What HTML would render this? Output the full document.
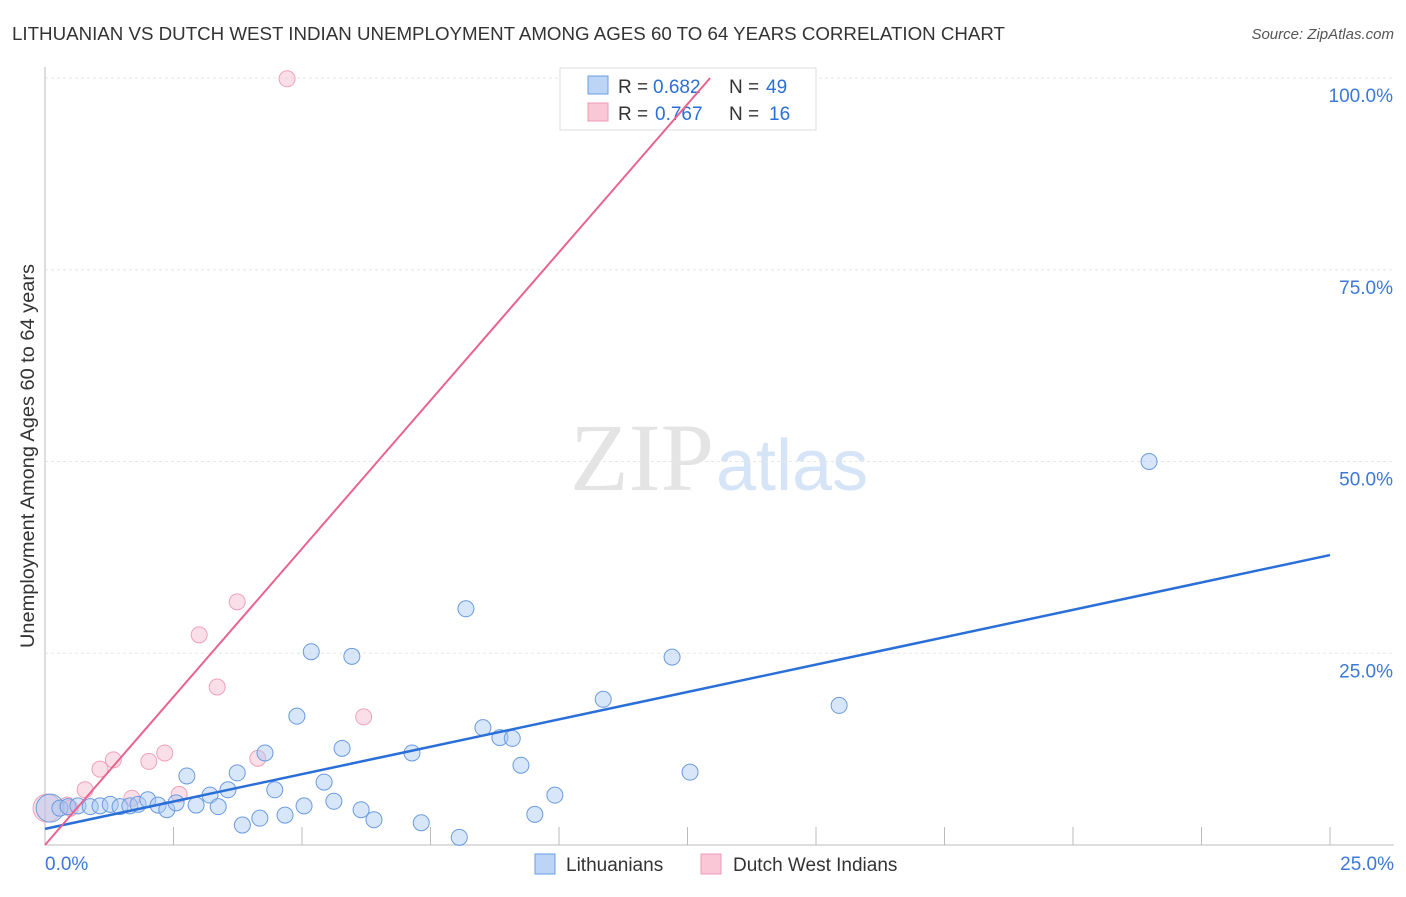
<!DOCTYPE html>
<html><head><meta charset="utf-8"><style>
body{margin:0;background:#fff;font-family:"Liberation Sans",sans-serif}
</style></head><body>
<svg id="chart" width="1406" height="892" xmlns="http://www.w3.org/2000/svg">
<text x="12" y="40" font-size="18" fill="#333" textLength="993" lengthAdjust="spacingAndGlyphs">LITHUANIAN VS DUTCH WEST INDIAN UNEMPLOYMENT AMONG AGES 60 TO 64 YEARS CORRELATION CHART</text>
<text x="1394" y="39" font-size="15" fill="#555" text-anchor="end" font-style="italic">Source: ZipAtlas.com</text>
<text x="714" y="490" font-size="96" fill="#e4e4e4" text-anchor="end" font-family="Liberation Serif">ZIP</text>
<text x="716" y="490" font-size="72" fill="#d6e4f7">atlas</text>
<g id="grid"></g>
<text transform="translate(34,456) rotate(-90)" font-size="19" fill="#333" text-anchor="middle" textLength="384" lengthAdjust="spacingAndGlyphs">Unemployment Among Ages 60 to 64 years</text>
<g>
<rect x="560" y="68" width="256" height="62" fill="#fff" stroke="#ddd"/>
<rect x="588" y="76" width="20" height="18" fill="#bcd4f5" stroke="#6a9be0"/>
<rect x="588" y="103" width="20" height="18" fill="#f9c7d6" stroke="#ee99b1"/>
<text x="618" y="93" font-size="19" fill="#333">R =</text>
<text x="653" y="93" font-size="19" fill="#2b6fd6">0.682</text>
<text x="729" y="93" font-size="19" fill="#333">N =</text>
<text x="766" y="93" font-size="19" fill="#2b6fd6">49</text>
<text x="618" y="120" font-size="19" fill="#333">R =</text>
<text x="655" y="120" font-size="19" fill="#2b6fd6">0.767</text>
<text x="729" y="120" font-size="19" fill="#333">N =</text>
<text x="769" y="120" font-size="19" fill="#2b6fd6">16</text>
</g>
<g id="marks"></g>
<g>
<rect x="535" y="854" width="20" height="20" fill="#bcd4f5" stroke="#6a9be0"/>
<text x="566" y="871" font-size="19" fill="#333">Lithuanians</text>
<rect x="701" y="854" width="20" height="20" fill="#f9c7d6" stroke="#ee99b1"/>
<text x="733" y="871" font-size="19" fill="#333">Dutch West Indians</text>
</g>
</svg>
<script>
const xTicks=[0,25];
const yTicks=[25,50,75,100];
const blueX=[0.1,0.29,0.45,0.64,0.88,1.07,1.27,1.46,1.65,1.81,2.0,2.2,2.37,2.55,2.76,2.94,3.21,3.37,3.56,3.74,3.84,4.18,4.28,4.47,4.67,4.9,5.04,5.18,5.43,5.62,5.78,5.97,6.15,6.4,7.14,7.32,8.06,8.19,8.52,8.85,9.09,9.26,9.53,9.92,10.86,12.2,12.55,15.45,21.48];
const blueY=[4.8,4.8,5.0,5.1,5.0,5.1,5.3,5.0,5.1,5.3,5.9,5.2,4.6,5.5,9.0,5.2,6.5,5.0,7.2,9.4,2.6,3.5,12.0,7.2,3.9,16.8,5.1,25.2,8.2,5.7,12.6,24.6,4.6,3.3,12.0,2.9,1.0,30.8,15.3,14.0,13.9,10.4,4.0,6.5,19.0,24.5,9.5,18.2,50.0];
const pinkX=[0.04,0.43,0.78,1.07,1.33,1.69,2.02,2.33,2.61,3.0,3.35,3.74,4.14,4.71,6.2,0.49];
const pinkY=[4.8,5.2,7.2,9.9,11.1,6.1,10.9,12.0,6.6,27.4,20.6,31.7,11.3,99.9,16.7,4.8];
const blueFit=[2.1,37.8];
const pinkFit=[0,12.94];
const X=v=>45+v*51.4, Y=v=>845-v*7.67;
const NS='http://www.w3.org/2000/svg';
const grid=document.getElementById('grid'),marks=document.getElementById('marks');
function mk(p,tag,a){const e=document.createElementNS(NS,tag);for(const k in a)e.setAttribute(k,a[k]);p.appendChild(e);return e;}
yTicks.forEach(t=>{const l=mk(grid,'line',{x1:45,x2:1394,y1:Y(t),y2:Y(t),stroke:'#e6e6e6','stroke-dasharray':'3,3'});


const tx=mk(grid,'text',{x:1393,y:Y(t)+24,'font-size':19,fill:'#3b78d8','text-anchor':'end'});tx.textContent=t.toFixed(1)+'%';

});
const ax=mk(grid,'path',{d:'M45,67V845H1394',stroke:'#bbb',fill:'none'});


for(let i=1;i<=10;i++){const l=mk(grid,'line',{x1:45+i*128.5,x2:45+i*128.5,y1:827,y2:845,stroke:'#bbb'});

}
xTicks.forEach((t,i)=>{const tx=mk(grid,'text',{x:i?1394:45,y:870,'font-size':19,fill:'#3b78d8','text-anchor':i?'end':'start'});tx.textContent=t.toFixed(1)+'%';

});
pinkX.forEach((v,i)=>{const c=mk(marks,'circle',{cx:X(v),cy:Y(pinkY[i]),r:i==0?14:8,fill:'rgba(246,176,198,0.4)',stroke:'#f0a0b8','stroke-width':1});

});
blueX.forEach((v,i)=>{const c=mk(marks,'circle',{cx:X(v),cy:Y(blueY[i]),r:i==0?14:8,fill:'rgba(168,200,242,0.45)',stroke:'#6a9be0','stroke-width':1});

});
const bl=mk(marks,'line',{x1:X(0),y1:Y(blueFit[0]),x2:X(25),y2:Y(blueFit[1]),stroke:'#2a6fd8','stroke-width':2.5});


const pl=mk(marks,'line',{x1:X(pinkFit[0]),y1:Y(0),x2:X(pinkFit[1]),y2:Y(100),stroke:'#e8648f','stroke-width':2});


</script>
</body></html>
